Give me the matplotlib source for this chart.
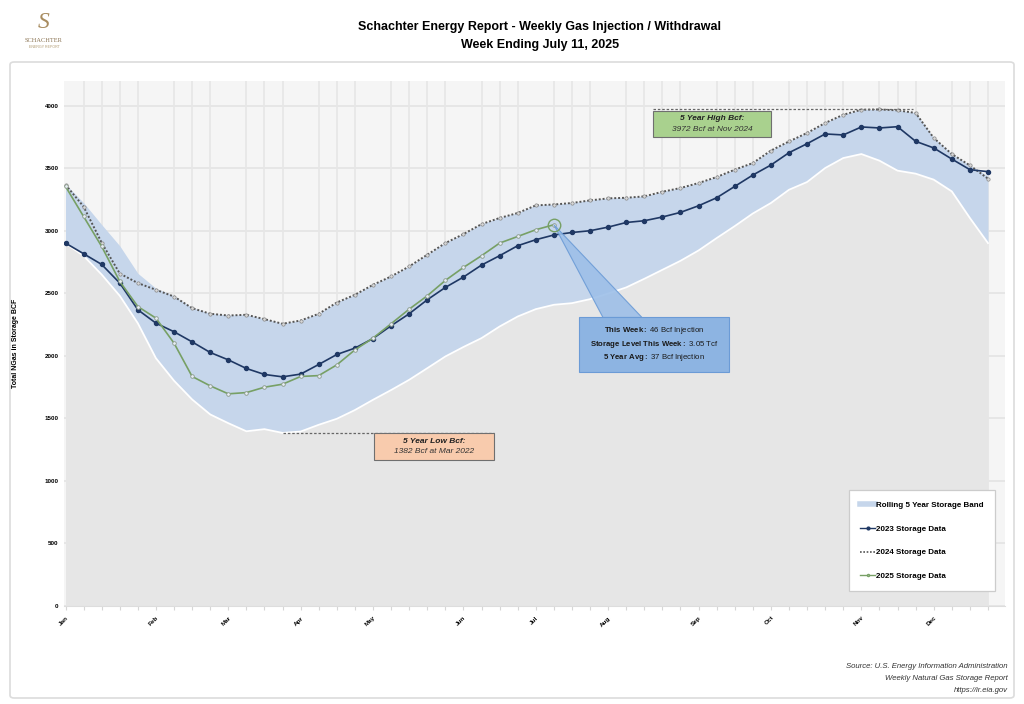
import numpy as np
import matplotlib as mpl
from matplotlib import pyplot as plt
from matplotlib.lines import Line2D
from matplotlib.patches import Rectangle, Polygon, FancyBboxPatch

mpl.rcParams['font.family'] = ['Liberation Sans', 'DejaVu Sans']
mpl.rcParams['mathtext.fontset'] = 'custom'
mpl.rcParams['mathtext.rm'] = 'Liberation Sans'
mpl.rcParams['mathtext.bf'] = 'Liberation Sans:bold'
mpl.rcParams['mathtext.it'] = 'Liberation Sans:italic'

# weekly storage, Bcf (week 0 = first week of January)
weeks = np.arange(52)
months = ['Jan', 'Feb', 'Mar', 'Apr', 'May', 'Jun', 'Jul', 'Aug', 'Sep', 'Oct', 'Nov', 'Dec']
month_weeks = [0, 5, 9, 13, 17, 22, 26, 30, 35, 39, 44, 48]

storage_2023 = [2902, 2817, 2731, 2582, 2368, 2261, 2192, 2111, 2026, 1967,
                1898, 1850, 1831, 1853, 1930, 2010, 2061, 2138, 2240, 2336,
                2448, 2547, 2630, 2726, 2801, 2881, 2929, 2967, 2987, 3001,
                3030, 3067, 3081, 3111, 3148, 3201, 3265, 3356, 3447, 3527,
                3626, 3698, 3776, 3768, 3832, 3824, 3834, 3717, 3664, 3575,
                3490, 3474]
storage_2024 = [3370, 3194, 2905, 2658, 2582, 2528, 2474, 2381, 2336, 2322,
                2328, 2293, 2256, 2282, 2336, 2426, 2488, 2568, 2635, 2715,
                2809, 2902, 2974, 3054, 3103, 3143, 3204, 3211, 3223, 3244,
                3260, 3265, 3276, 3313, 3343, 3383, 3431, 3490, 3543, 3643,
                3716, 3784, 3864, 3930, 3970, 3972, 3965, 3944, 3744, 3615,
                3524, 3418]
storage_2025 = [3356, 3115, 2875, 2595, 2394, 2301, 2101, 1834, 1759, 1695,
                1705, 1748, 1772, 1834, 1841, 1927, 2047, 2141, 2256, 2373,
                2480, 2603, 2707, 2801, 2902, 2955, 3009, 3049]

band_low = [2900, 2800, 2650, 2480, 2260, 1980, 1800, 1650, 1530, 1460,
            1395, 1412, 1382, 1393, 1447, 1495, 1565, 1647, 1725, 1807,
            1900, 1994, 2070, 2141, 2234, 2314, 2373, 2408, 2421, 2453,
            2498, 2547, 2616, 2688, 2760, 2843, 2942, 3038, 3139, 3223,
            3329, 3391, 3503, 3583, 3615, 3562, 3482, 3458, 3410, 3316,
            3103, 2902]
band_high = [3375, 3225, 3050, 2880, 2660, 2540, 2480, 2385, 2340, 2325,
             2330, 2295, 2258, 2285, 2338, 2428, 2490, 2570, 2637, 2717,
             2811, 2904, 2976, 3056, 3105, 3145, 3206, 3213, 3225, 3246,
             3262, 3267, 3278, 3315, 3345, 3385, 3433, 3492, 3545, 3645,
             3718, 3786, 3866, 3932, 3972, 3972, 3967, 3946, 3746, 3617,
             3526, 3440]

high_val = 3972
low_val, low_week = 1382, 12

W, H = 1024, 704


def fx(x):
    return x / W


def fy(y):
    return 1 - y / H


# pixel -> data helpers for placing the callout boxes
def wx(x):
    return (x - 65.5) / 18.088


def vy(y):
    return (605.5 - y) * 8.008


fig = plt.figure(figsize=(10.24, 7.04), dpi=100)

# outer frame
fig.add_artist(FancyBboxPatch((fx(10), fy(698)), 1004 / W, 636 / H,
                              boxstyle='round,pad=0,rounding_size=0.004',
                              transform=fig.transFigure, facecolor='white',
                              edgecolor='#dcdcdc', lw=1.2, zorder=0))

fig.text(fx(540), fy(27), 'Schachter Energy Report - Weekly Gas Injection / Withdrawal',
         ha='center', va='center', fontsize=9, fontweight='bold')
fig.text(fx(540), fy(45), 'Week Ending July 11, 2025',
         ha='center', va='center', fontsize=9, fontweight='bold')

# logo
fig.text(fx(44), fy(22), 'S', ha='center', va='center', fontsize=17,
         family=['Liberation Serif', 'DejaVu Serif'], style='italic', color='#a88c60')
fig.text(fx(44), fy(40), 'SCHACHTER', ha='center', va='center', fontsize=4.6,
         family=['Liberation Serif', 'DejaVu Serif'], color='#8a7352')
fig.text(fx(44), fy(46.5), 'ENERGY REPORT', ha='center', va='center', fontsize=2.6,
         color='#b09a70')

ax = fig.add_axes([fx(64), fy(605.5), (1005 - 64) / W, (605.5 - 81) / H])
ax.set_facecolor('#f5f5f5')
ax.set_xlim(wx(64), wx(1005))
ax.set_ylim(0, 4200)

ax.set_axisbelow(True)
ax.set_yticks(np.arange(0, 4001, 500))
ax.set_xticks(month_weeks)
ax.set_xticks(weeks, minor=True)
ax.set_xticklabels(months, rotation=45, ha='right', va='top', rotation_mode='anchor',
                   fontsize=4.6, fontweight='bold')
ax.tick_params(axis='y', length=0, labelsize=4.5, pad=4)
for lab in ax.get_yticklabels():
    lab.set_fontweight('bold')
ax.tick_params(axis='x', which='both', length=3, color='#d6d6d6', width=0.8, pad=4)
ax.grid(axis='y', which='major', color='#e6e6e6', lw=1.4)
ax.grid(axis='x', which='minor', color='#e6e6e6', lw=1.2)
for side in ['top', 'right', 'left']:
    ax.spines[side].set_visible(False)
ax.spines['bottom'].set_color('#dddddd')
ax.spines['bottom'].set_linewidth(0.8)

fig.text(fx(16), fy(343), 'Total NGas in Storage BCF', rotation=90, ha='center',
         va='center', fontsize=5, fontweight='bold')

# 5 year band and the area under it
ax.fill_between(weeks, 0, band_low, color='#e6e6e6', lw=0, zorder=1)
ax.fill_between(weeks, band_low, band_high, color='#c6d6eb', lw=0, zorder=1)
ax.plot(weeks, band_low, color='white', lw=1.3, zorder=1.5)

ax.plot(weeks, storage_2024, color='#555555', ls=(0, (1, 1)), lw=1.4,
        marker='o', ms=2.4, mfc='#d8d8d8', mec='#888888', mew=0.5, zorder=3)
ax.plot(weeks, storage_2023, color='#1f3864', lw=1.2, marker='o', ms=2.9, zorder=4)
ax.plot(weeks[:len(storage_2025)], storage_2025, color='#77a065', lw=1.2,
        marker='o', ms=2.6, mfc='#e8eef5', mec='#8a9a8a', mew=0.6, zorder=5)

# 5 year high / low markers
ax.plot([wx(653), wx(913)], [high_val, high_val], color='#666666', lw=0.9,
        dashes=(2, 1.5), zorder=6)
ax.plot([low_week, wx(494)], [low_val, low_val], color='#666666', lw=0.9,
        dashes=(2, 1.5), zorder=6)

ax.add_patch(Rectangle((wx(653), vy(137.3)), wx(771) - wx(653), vy(110.7) - vy(137.3),
                       facecolor='#a9d18e', edgecolor='#6f6f6f', lw=0.8, zorder=7,
                       clip_on=False))
ax.text(wx(712), vy(119), '5 Year High Bcf:', ha='center', va='center', fontsize=6,
        fontweight='bold', style='italic', color='#222222', zorder=8)
ax.text(wx(712), vy(129.5), '3972 Bcf at Nov 2024', ha='center', va='center', fontsize=6,
        style='italic', color='#333333', zorder=8)

ax.add_patch(Rectangle((wx(374), vy(460)), wx(494) - wx(374), vy(433) - vy(460),
                       facecolor='#f8cbad', edgecolor='#6f6f6f', lw=0.8, zorder=7,
                       clip_on=False))
ax.text(wx(434), vy(441.5), '5 Year Low Bcf:', ha='center', va='center', fontsize=6,
        fontweight='bold', style='italic', color='#222222', zorder=8)
ax.text(wx(434), vy(452), '1382 Bcf at Mar 2022', ha='center', va='center', fontsize=6,
        style='italic', color='#333333', zorder=8)

# this week callout
this_week = len(storage_2025) - 1
ax.add_patch(Polygon([(this_week, storage_2025[-1]), (wx(603), vy(317.5)), (wx(642), vy(317.5))],
                     closed=True, facecolor='#9dbfe8', edgecolor='#6b9bd6', lw=0.8,
                     alpha=0.9, zorder=7))
ax.plot(this_week, storage_2025[-1], 'o', ms=9, mfc='none', mec='#77a065', mew=1.0, zorder=8)
ax.add_patch(Rectangle((wx(579), vy(372)), wx(729) - wx(579), vy(317) - vy(372),
                       facecolor='#8db4e2', edgecolor='#6b9bd6', lw=0.8, zorder=7))
callout = [r'$\mathbf{This\ Week:}$ 46 Bcf Injection',
           r'$\mathbf{Storage\ Level\ This\ Week:}$ 3.05 Tcf',
           r'$\mathbf{5\ Year\ Avg:}$ 37 Bcf Injection']
for line, ypx in zip(callout, [331, 344.5, 358]):
    ax.text(wx(654), vy(ypx), line, ha='center', va='center', fontsize=5.6,
            color='#1a1a1a', zorder=8)

handles = [Line2D([], [], color='#c6d6eb', lw=4),
           Line2D([], [], color='#1f3864', lw=1, marker='o', ms=2),
           Line2D([], [], color='#555555', ls=(0, (1, 1)), lw=1.2),
           Line2D([], [], color='#77a065', lw=1, marker='o', ms=1.5, mfc='#e8eef5')]
labels = ['Rolling 5 Year Storage Band', '2023 Storage Data', '2024 Storage Data',
          '2025 Storage Data']
leg = fig.legend(handles, labels, loc='upper left',
                 bbox_to_anchor=(fx(845), fy(493), 154 / W, 0.01), mode='expand',
                 handlelength=1.8, handletextpad=0.1, labelspacing=2.0,
                 borderpad=1.4, fancybox=False, framealpha=1, edgecolor='#cccccc',
                 prop={'weight': 'bold', 'size': 5.8})
leg.get_frame().set_linewidth(0.9)

for text, ypx in zip(['Source: U.S. Energy Information Administration',
                      'Weekly Natural Gas Storage Report', 'https://ir.eia.gov'],
                     [667, 679, 690]):
    fig.text(fx(1008), fy(ypx), text, ha='right', va='center', fontsize=5.6,
             style='italic', color='#333333')

fig.savefig('out.png', dpi=100)
